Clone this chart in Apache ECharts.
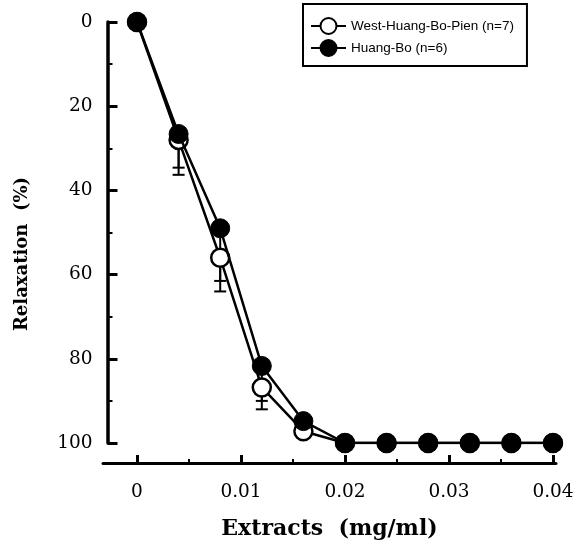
<!DOCTYPE html>
<html>
<head>
<meta charset="utf-8">
<script src="https://cdn.jsdelivr.net/npm/echarts@6/dist/echarts.min.js"></script>
<style>
html,body{margin:0;padding:0;background:#fff;}
#chart{width:582px;height:551px;}
</style>
</head>
<body>
<div id="chart"></div>
<script>
// ---- data ----
const xValues = [0, 0.004, 0.008, 0.012, 0.016, 0.02, 0.024, 0.028, 0.032, 0.036, 0.04];
const westName = 'West-Huang-Bo-Pien (n=7)';
const westValues = [0, 28, 56, 86.8, 97.2, 100, 100, 100, 100, 100, 100];
const westErr = [0, 8.3, 8, 5.2, 1.3, 0, 0, 0, 0, 0, 0];
const huangName = 'Huang-Bo (n=6)';
const huangValues = [0, 26.6, 49, 81.7, 94.8, 100, 100, 100, 100, 100, 100];
const huangErr = [0, 8, 12.5, 8.3, 0, 0, 0, 0, 0, 0, 0];
const xMajorTicks = [0, 0.01, 0.02, 0.03, 0.04];
const xMinorTicks = [0.005, 0.015, 0.025, 0.035];
const xTitle = 'Extracts  (mg/ml)';
const yTitle = 'Relaxation  (%)';

const pairs = (vals) => xValues.map((x, i) => [x, vals[i]]);
const errPairs = (vals, errs) => xValues.map((x, i) => [x, vals[i], vals[i] + errs[i]]).filter(d => d[2] > d[1]);

function errRender(params, api) {
  const x = api.value(0);
  const p0 = api.coord([x, api.value(1)]);
  const p1 = api.coord([x, api.value(2)]);
  const w = 6;
  const style = {stroke: '#000', lineWidth: 2};
  return {
    type: 'group',
    children: [
      {type: 'line', shape: {x1: p0[0], y1: p0[1], x2: p1[0], y2: p1[1]}, style},
      {type: 'line', shape: {x1: p1[0] - w, y1: p1[1], x2: p1[0] + w, y2: p1[1]}, style}
    ]
  };
}

const chart = echarts.init(document.getElementById('chart'), null, {renderer: 'canvas'});
const serif = 'DejaVu Serif';
chart.setOption({
  backgroundColor: '#fff',
  animation: false,
  grid: {left: 103, right: 26, top: 22, bottom: 108, containLabel: false},
  legend: {
    left: 303, top: 4,
    orient: 'vertical',
    data: [westName, huangName],
    padding: [13, 13, 9, 7],
    itemWidth: 35, itemHeight: 20, itemGap: 4,
    borderColor: '#000', borderWidth: 2,
    textStyle: {fontFamily: 'Liberation Sans', fontSize: 13.5, color: '#000'}
  },
  xAxis: [{
    type: 'value', min: -0.00327, max: 0.04029,
    offset: 20, position: 'bottom',
    name: xTitle, nameLocation: 'middle', nameGap: 55,
    nameTextStyle: {fontFamily: serif, fontWeight: 'bold', fontSize: 22, color: '#000'},
    axisLine: {show: true, onZero: false, lineStyle: {color: '#000', width: 3}},
    axisTick: {show: true, inside: true, length: 8, lineStyle: {color: '#000', width: 3}, customValues: xMajorTicks},
    axisLabel: {show: true, margin: 20, fontFamily: serif, fontSize: 18.5, color: '#000', customValues: xMajorTicks,
      formatter: v => String(+v.toFixed(3))},
    splitLine: {show: false}
  }, {
    type: 'value', min: -0.00327, max: 0.04029,
    offset: 20, position: 'bottom',
    axisLine: {show: false, onZero: false},
    axisTick: {show: true, inside: true, length: 4, lineStyle: {color: '#000', width: 2}, customValues: xMinorTicks},
    axisLabel: {show: false},
    splitLine: {show: false}
  }],
  yAxis: {
    type: 'value', min: 0, max: 100, interval: 20, inverse: true,
    offset: -4.5, position: 'left',
    axisLine: {show: true, onZero: false, lineStyle: {color: '#000', width: 3.5}},
    axisTick: {show: true, inside: true, length: 10, lineStyle: {color: '#000', width: 3}},
    minorTick: {show: true, splitNumber: 2, length: 5, lineStyle: {color: '#000', width: 2}},
    axisLabel: {margin: 15, fontFamily: serif, fontSize: 18.5, color: '#000'},
    splitLine: {show: false}
  },
  graphic: [{
    type: 'text', x: 22, y: 254, rotation: Math.PI / 2,
    style: {text: yTitle, fontFamily: serif, fontWeight: 'bold', fontSize: 18, fill: '#000', align: 'center', verticalAlign: 'middle'}
  }],
  series: [
    {
      type: 'custom', name: 'westErr', renderItem: errRender, data: errPairs(westValues, westErr), z: 2, silent: true
    },
    {
      type: 'custom', name: 'huangErr', renderItem: errRender, data: errPairs(huangValues, huangErr), z: 2, silent: true
    },
    {
      name: westName, type: 'line', data: pairs(westValues), z: 3,
      symbol: 'circle', symbolSize: 18,
      lineStyle: {color: '#000', width: 2.5},
      itemStyle: {color: '#fff', borderColor: '#000', borderWidth: 2.5}
    },
    {
      name: huangName, type: 'line', data: pairs(huangValues), z: 4,
      symbol: 'circle', symbolSize: 19,
      lineStyle: {color: '#000', width: 2.5},
      itemStyle: {color: '#000', borderColor: '#000', borderWidth: 1}
    }
  ]
});
</script>
</body>
</html>
